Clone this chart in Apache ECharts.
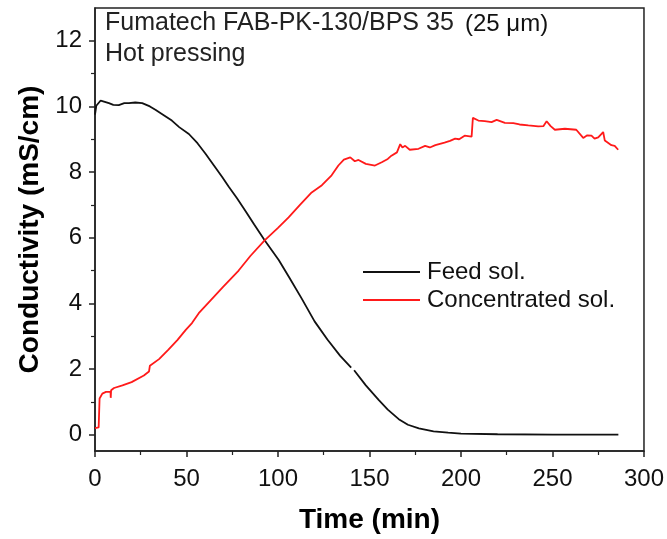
<!DOCTYPE html>
<html><head><meta charset="utf-8">
<script src="https://cdn.jsdelivr.net/npm/echarts@6/dist/echarts.min.js"></script>
<style>html,body{margin:0;padding:0;background:#fff}#c{width:667px;height:539px}</style>
</head><body><div id="c"></div>
<script>
const xTicks = [0, 50, 100, 150, 200, 250, 300];
const yTicks = [0, 2, 4, 6, 8, 10, 12];
const yMinorTicks = [1, 3, 5, 7, 9, 11];
const seriesNames = ['Feed sol.', 'Concentrated sol.'];
const feedTime = [0,0.7,3.1,7.6,10,13,16,17,18.5,22,25.8,30,33,38,42,46,51.3,56,60.4,65,69.5,73.1,77.6,82.4,87,92.7,100.4,106,112.9,120,127,134,140,140.8,141.6,148,155,160,166,171,177,185,193,200,220,250,286];
const feedValue = [9.75,10.02,10.18,10.1,10.05,10.04,10.1,10.15,10.1,10.12,10.1,10.0,9.9,9.72,9.57,9.37,9.16,8.88,8.56,8.2,7.85,7.55,7.2,6.8,6.4,5.92,5.32,4.8,4.15,3.45,2.9,2.4,2.04,null,1.96,1.5,1.06,0.76,0.47,0.3,0.19,0.1,0.06,0.03,0.01,0.0,0.0];
const concTime = [0,2,2.5,4,6,8.5,8.6,8.8,10.4,15,20,26.7,29.5,30,35,40,45,49.6,53,56.7,60,63.3,70,78.5,85,92.7,100,105.8,112,118.4,124,129.3,133,136,139.5,142,144,148,153,156.7,160,162,165,166.8,168,169.5,172,176.8,180.4,183,186,191,194,196.8,199,202,205.8,206.5,207.5,209.5,213,216.7,219.5,224,228.6,232,236.8,242.2,245,246.8,249,251.3,256.8,263,264,266.8,269,271.3,273,275,277.7,278.6,282.2,284,285.9];
const concValue = [0.2,0.22,1.1,1.25,1.3,1.3,1.12,1.35,1.42,1.5,1.6,1.8,1.92,2.1,2.3,2.58,2.88,3.19,3.4,3.7,3.9,4.1,4.5,5.0,5.45,5.92,6.3,6.62,7.0,7.38,7.6,7.9,8.2,8.38,8.45,8.33,8.37,8.25,8.2,8.3,8.4,8.5,8.6,8.85,8.75,8.8,8.68,8.71,8.8,8.75,8.82,8.9,8.95,9.02,9.0,9.11,9.08,9.65,9.68,9.57,9.55,9.52,9.59,9.5,9.49,9.45,9.42,9.39,9.4,9.55,9.4,9.29,9.32,9.29,9.3,9.04,9.12,9.11,9.02,9.06,9.22,8.96,8.82,8.8,8.68];

const feedData = feedTime.map((t,i)=>[t, feedValue[i]]);
const concData = concTime.map((t,i)=>[t, concValue[i]]);
const F = 'Liberation Sans, Arial, sans-serif';
const AX = '#222';
const chart = echarts.init(document.getElementById('c'), null, {renderer:'canvas'});
chart.setOption({
  animation:false,
  grid:{left:95,right:21,top:8,bottom:87,show:true,borderColor:AX,borderWidth:1.5,backgroundColor:'transparent'},
  xAxis:{type:'value',min:0,max:300,interval:50,
    name:'Time (min)',nameLocation:'middle',nameGap:55,
    nameTextStyle:{fontFamily:F,fontWeight:'bold',fontSize:28,color:'#000'},
    axisLine:{onZero:false,lineStyle:{color:AX,width:1.5}},
    axisTick:{show:true,inside:false,length:6,lineStyle:{color:AX,width:1.5}},
    minorTick:{show:true,splitNumber:2,length:4,lineStyle:{color:AX,width:1.2}},
    axisLabel:{fontFamily:F,fontSize:24,color:'#111',margin:16,formatter:v=>xTicks.includes(v)?String(v):''},
    splitLine:{show:false}},
  yAxis:[{type:'value',min:-0.5,max:13,interval:2,
    name:'Conductivity (mS/cm)',nameLocation:'middle',nameGap:46,nameRotate:90,
    nameTextStyle:{fontFamily:F,fontWeight:'bold',fontSize:28,color:'#000'},
    axisLine:{onZero:false,lineStyle:{color:AX,width:1.5}},
    axisTick:{show:true,inside:false,length:6,lineStyle:{color:AX,width:1.5},customValues:yTicks},
    minorTick:{show:false},
    axisLabel:{fontFamily:F,fontSize:24,color:'#111',margin:13,customValues:yTicks},
    splitLine:{show:false}},
   {type:'value',min:-0.5,max:13,position:'left',offset:0,
    axisLine:{show:false},
    axisTick:{show:true,inside:false,length:4,lineStyle:{color:AX,width:1.2},customValues:yMinorTicks},
    axisLabel:{show:false},splitLine:{show:false}}],
  legend:{orient:'vertical',left:358,top:255,itemWidth:57,itemHeight:2,itemGap:4,
    icon:'rect',
    textStyle:{fontFamily:F,fontSize:24,color:'#111',padding:[0,0,0,2]},
    data:seriesNames},
  graphic:[
    {type:'text',left:105,top:11,style:{text:'Fumatech FAB-PK-130/BPS 35',font:'25px '+F,fill:'#222'}},
    {type:'text',left:465,top:12,style:{text:'(25 μm)',font:'24px '+F,fill:'#111'}},
    {type:'text',left:105,top:42,style:{text:'Hot pressing',font:'25px '+F,fill:'#222'}}
  ],
  series:[
    {name:seriesNames[0],type:'line',data:feedData,showSymbol:false,symbol:'none',connectNulls:false,
      lineStyle:{color:'#111',width:1.8},itemStyle:{color:'#111'}},
    {name:seriesNames[1],type:'line',data:concData,showSymbol:false,symbol:'none',
      lineStyle:{color:'#ff1a1a',width:1.8},itemStyle:{color:'#ff1a1a'}}
  ]
});
</script></body></html>
